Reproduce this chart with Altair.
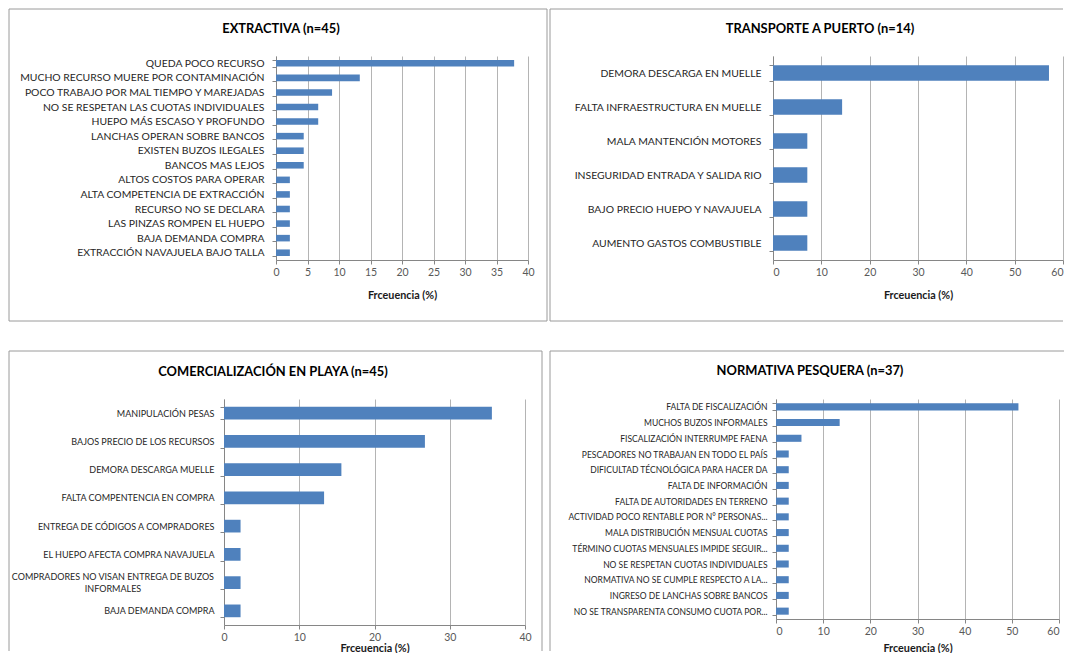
import altair as alt
import pandas as pd

FONT = "Lato"
BAR = "#4F81BD"
FRAME = "#9a9a9a"
AXIS = "#868686"
GRID = "#b4b4b4"

# ---------------- data ----------------
p1_title = "EXTRACTIVA (n=45)"
p1_cats = [
    "QUEDA POCO RECURSO",
    "MUCHO RECURSO MUERE POR CONTAMINACIÓN",
    "POCO TRABAJO POR MAL TIEMPO Y MAREJADAS",
    "NO SE RESPETAN LAS CUOTAS INDIVIDUALES",
    "HUEPO MÁS ESCASO Y PROFUNDO",
    "LANCHAS OPERAN SOBRE BANCOS",
    "EXISTEN BUZOS ILEGALES",
    "BANCOS MAS LEJOS",
    "ALTOS COSTOS PARA OPERAR",
    "ALTA COMPETENCIA DE EXTRACCIÓN",
    "RECURSO NO SE DECLARA",
    "LAS PINZAS ROMPEN EL HUEPO",
    "BAJA DEMANDA COMPRA",
    "EXTRACCIÓN NAVAJUELA BAJO TALLA",
]
p1_vals = [37.8, 13.3, 8.9, 6.7, 6.7, 4.4, 4.4, 4.4, 2.2, 2.2, 2.2, 2.2, 2.2, 2.2]

p2_title = "TRANSPORTE A PUERTO (n=14)"
p2_cats = [
    "DEMORA DESCARGA EN MUELLE",
    "FALTA INFRAESTRUCTURA EN MUELLE",
    "MALA MANTENCIÓN MOTORES",
    "INSEGURIDAD ENTRADA Y SALIDA RIO",
    "BAJO PRECIO HUEPO Y NAVAJUELA",
    "AUMENTO GASTOS COMBUSTIBLE",
]
p2_vals = [57.1, 14.3, 7.1, 7.1, 7.1, 7.1]

p3_title = "COMERCIALIZACIÓN EN PLAYA (n=45)"
p3_wrapped = "COMPRADORES NO VISAN ENTREGA DE BUZOS INFORMALES"
p3_wrap_lines = ["COMPRADORES NO VISAN ENTREGA DE BUZOS", "INFORMALES"]
p3_cats = [
    "MANIPULACIÓN PESAS",
    "BAJOS PRECIO DE LOS RECURSOS",
    "DEMORA DESCARGA MUELLE",
    "FALTA COMPENTENCIA EN COMPRA",
    "ENTREGA DE CÓDIGOS A COMPRADORES",
    "EL HUEPO AFECTA COMPRA NAVAJUELA",
    p3_wrapped,
    "BAJA DEMANDA COMPRA",
]
p3_vals = [35.6, 26.7, 15.6, 13.3, 2.2, 2.2, 2.2, 2.2]

p4_title = "NORMATIVA PESQUERA (n=37)"
p4_cats = [
    "FALTA DE FISCALIZACIÓN",
    "MUCHOS BUZOS INFORMALES",
    "FISCALIZACIÓN INTERRUMPE FAENA",
    "PESCADORES NO TRABAJAN EN TODO EL PAÍS",
    "DIFICULTAD TÉCNOLÓGICA PARA HACER DA",
    "FALTA DE INFORMACIÓN",
    "FALTA DE AUTORIDADES  EN TERRENO",
    "ACTIVIDAD POCO RENTABLE POR N° PERSONAS...",
    "MALA DISTRIBUCIÓN MENSUAL CUOTAS",
    "TÉRMINO CUOTAS MENSUALES IMPIDE SEGUIR...",
    "NO SE RESPETAN CUOTAS INDIVIDUALES",
    "NORMATIVA NO SE CUMPLE RESPECTO A LA...",
    "INGRESO DE LANCHAS SOBRE BANCOS",
    "NO SE TRANSPARENTA CONSUMO CUOTA POR...",
]
p4_vals = [51.4, 13.5, 5.4, 2.7, 2.7, 2.7, 2.7, 2.7, 2.7, 2.7, 2.7, 2.7, 2.7, 2.7]

x_title = "Frceuencia (%)"

one = pd.DataFrame({"k": [0]})


def hline(x1, x2, y):
    return alt.Chart(one).mark_rule(color=FRAME, strokeWidth=1).encode(
        x=alt.value(x1), x2=alt.value(x2), y=alt.value(y))


def vline(x, y1, y2):
    return alt.Chart(one).mark_rule(color=FRAME, strokeWidth=1).encode(
        x=alt.value(x), y=alt.value(y1), y2=alt.value(y2))


def panel(cats, vals, title, xmax, step, w, h, frames, tpos, lsize, lpad,
          title_y, x0=0, flush=False, wrap=None):
    df = pd.DataFrame({"cat": cats, "val": vals})
    yaxis_kw = dict(title=None, labelFont=FONT, labelFontSize=lsize,
                    labelLimit=400, labelPadding=lpad, labelColor="#262626",
                    domainColor=AXIS, tickColor=AXIS, tickSize=4,
                    tickBand="extent", grid=False)
    if x0:
        yaxis_kw["offset"] = -x0
    if wrap:
        yaxis_kw["labelExpr"] = ("datum.label == '%s' ? '' : datum.label"
                                 % wrap[0])
    xaxis = alt.Axis(values=list(range(0, xmax + 1, step)), title=x_title,
                     titleFont=FONT, titleFontSize=10.8, titleFontWeight="bold",
                     titleColor="#1a1a1a", titleY=title_y,
                     titleX=x0 + (w - x0) / 2, titleAlign="center",
                     titleBaseline="middle", labelFont=FONT, labelFontSize=10.5,
                     labelColor="#595959", grid=True, gridColor=GRID,
                     domainColor=AXIS, tickColor=AXIS, tickSize=4,
                     labelPadding=3, labelFlush=flush)
    yscale = alt.Scale(paddingInner=0.55, paddingOuter=0.275)
    bars = alt.Chart(df).mark_bar(color=BAR).encode(
        x=alt.X("val:Q",
                scale=alt.Scale(domain=[0, xmax], range=[x0, w], nice=False),
                axis=xaxis),
        y=alt.Y("cat:N", sort=cats, scale=yscale, axis=alt.Axis(**yaxis_kw)),
    )
    layers = list(frames) + [bars]
    if wrap:
        cat, lines, xr, xc = wrap
        l1 = alt.Chart(pd.DataFrame({"cat": [cat], "t": [lines[0]]})).mark_text(
            font=FONT, fontSize=lsize, color="#262626", align="right",
            baseline="middle", dy=-6).encode(
            y=alt.Y("cat:N", sort=cats), x=alt.value(xr), text="t:N")
        l2 = alt.Chart(pd.DataFrame({"cat": [cat], "t": [lines[1]]})).mark_text(
            font=FONT, fontSize=lsize, color="#262626", align="center",
            baseline="middle", dy=6).encode(
            y=alt.Y("cat:N", sort=cats), x=alt.value(xc), text="t:N")
        layers += [l1, l2]
    txt = alt.Chart(pd.DataFrame({"t": [title]})).mark_text(
        font=FONT, fontSize=12.9, fontWeight="bold", color="#000000",
        baseline="middle", align="center").encode(
        x=alt.value(tpos[0]), y=alt.value(tpos[1]), text="t:N")
    layers.append(txt)
    return alt.layer(*layers).properties(width=w, height=h)


# column-1 panels share their origin; p1's plot starts 52px to the right
p1 = panel(p1_cats, p1_vals, p1_title, 40, 5, 304, 204,
           [hline(-215, 323, -47), hline(-215, 323, 265),
            vline(-215, -47, 265), vline(323, -47, 265)],
           (57, -27), 10.4, 8, 35, x0=52)
p2 = panel(p2_cats, p2_vals, p2_title, 60, 10, 290, 204,
           [hline(-223, 290, -47), hline(-223, 290, 265),
            vline(-223, -47, 265)],
           (47, -27), 10.4, 8, 35, flush=True)
p3 = panel(p3_cats, p3_vals, p3_title, 40, 10, 301, 226,
           [hline(-215, 318, -48), vline(-215, -48, 252),
            vline(318, -48, 252)],
           (49, -27), 9.0, 6, 23,
           wrap=(p3_wrapped, p3_wrap_lines, -10, -111))
p4 = panel(p4_cats, p4_vals, p4_title, 60, 10, 283, 220,
           [hline(-226, 288, -48), vline(-226, -48, 252)],
           (34, -28), 8.5, 5, 29, flush=True)

chart = alt.concat(p1, p2, p3, p4, columns=2, align="none", bounds="full",
                   spacing={"row": 28, "column": 1}).properties(
    padding=0, background="white").configure_view(stroke=None)

chart.save("out.html", embed_options={"renderer": "svg", "actions": False})
